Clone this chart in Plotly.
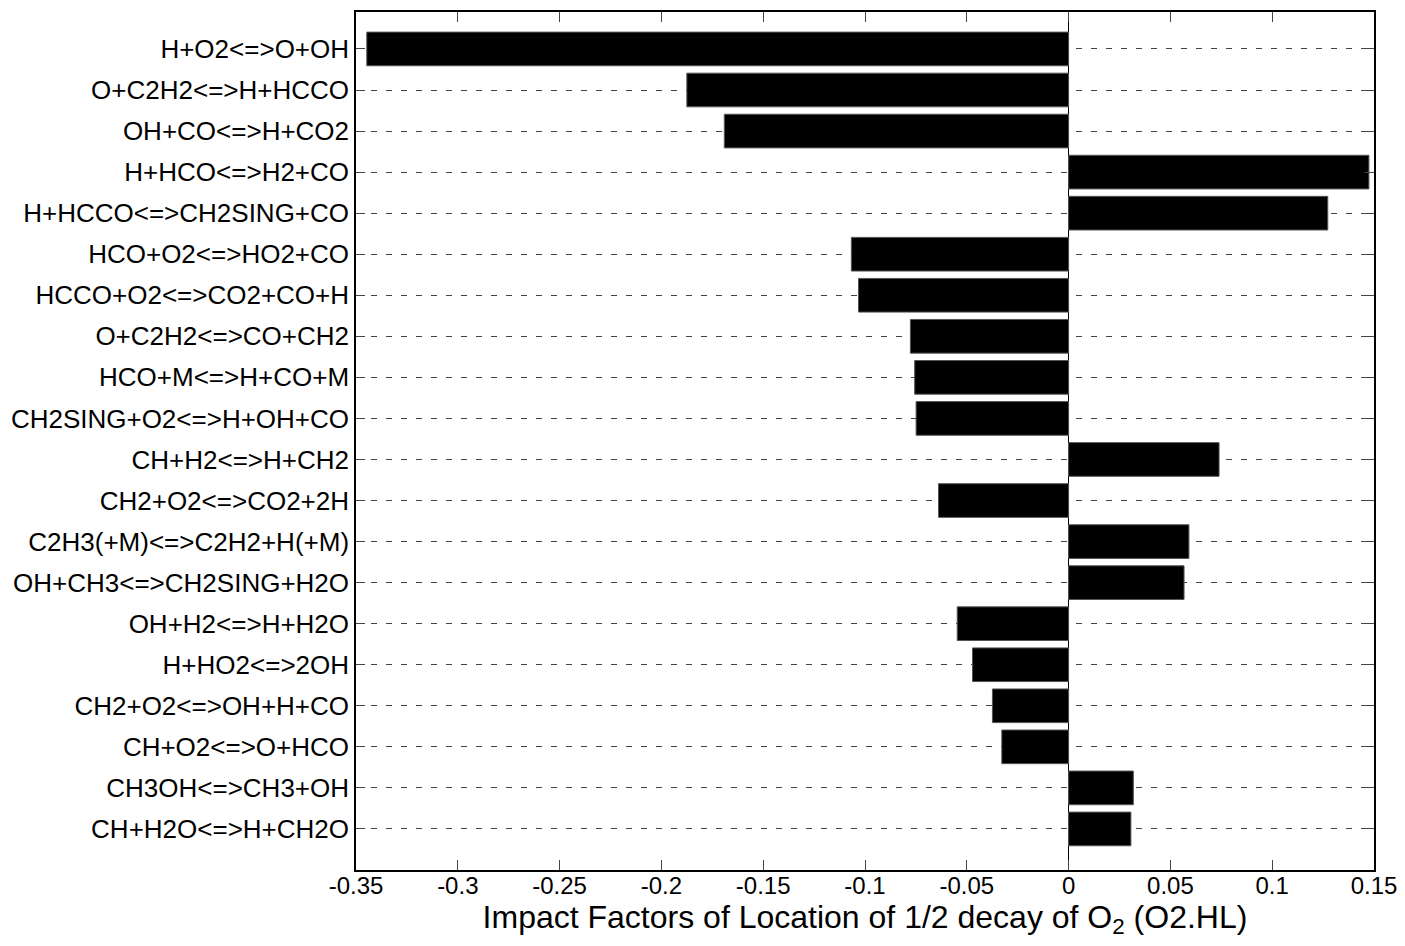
import plotly.graph_objects as go

# Reactions, ordered top to bottom
reactions = [
    "H+O2<=>O+OH",
    "O+C2H2<=>H+HCCO",
    "OH+CO<=>H+CO2",
    "H+HCO<=>H2+CO",
    "H+HCCO<=>CH2SING+CO",
    "HCO+O2<=>HO2+CO",
    "HCCO+O2<=>CO2+CO+H",
    "O+C2H2<=>CO+CH2",
    "HCO+M<=>H+CO+M",
    "CH2SING+O2<=>H+OH+CO",
    "CH+H2<=>H+CH2",
    "CH2+O2<=>CO2+2H",
    "C2H3(+M)<=>C2H2+H(+M)",
    "OH+CH3<=>CH2SING+H2O",
    "OH+H2<=>H+H2O",
    "H+HO2<=>2OH",
    "CH2+O2<=>OH+H+CO",
    "CH+O2<=>O+HCO",
    "CH3OH<=>CH3+OH",
    "CH+H2O<=>H+CH2O",
]

# Impact factors for each reaction
impact = [
    -0.3447, -0.1875, -0.1691, 0.1475, 0.1273,
    -0.1067, -0.1032, -0.0777, -0.0756, -0.0749,
    0.0739, -0.0639, 0.0591, 0.0567, -0.0547,
    -0.0472, -0.0374, -0.0328, 0.0318, 0.0306,
]

x_ticks = [-0.35, -0.3, -0.25, -0.2, -0.15, -0.1, -0.05, 0, 0.05, 0.1, 0.15]
x_tick_text = ["-0.35", "-0.3", "-0.25", "-0.2", "-0.15", "-0.1", "-0.05", "0", "0.05", "0.1", "0.15"]

font_family = "Liberation Sans, Arial, Helvetica, sans-serif"

fig = go.Figure(
    go.Bar(
        x=impact,
        y=reactions,
        orientation="h",
        width=0.82,
        marker=dict(color="black", line=dict(color="#555555", width=1)),
        hoverinfo="x+y",
    )
)

fig.update_layout(
    width=1405,
    height=946,
    margin=dict(l=356, r=31, t=12, b=76, autoexpand=False),
    paper_bgcolor="white",
    plot_bgcolor="white",
    showlegend=False,
    font=dict(family=font_family, color="black", size=20),
)

fig.update_xaxes(
    range=[-0.35, 0.15],
    tickvals=x_ticks,
    ticktext=x_tick_text,
    ticks="inside",
    ticklen=10,
    tickcolor="#444444",
    tickwidth=1,
    ticklabelstandoff=-7,
    automargin=False,
    showline=True,
    linecolor="black",
    linewidth=1.5,
    mirror="ticks",
    showgrid=False,
    zeroline=True,
    zerolinecolor="black",
    zerolinewidth=1,
    tickfont=dict(size=24),
    title=dict(
        text="Impact Factors of Location of 1/2 decay of O<sub>2</sub> (O2.HL)",
        font=dict(size=32),
        standoff=0,
    ),
)

fig.update_yaxes(
    type="category",
    categoryorder="array",
    categoryarray=reactions,
    range=[20.0, -0.9],
    ticks="inside",
    ticklen=9,
    tickcolor="#444444",
    tickwidth=1,
    automargin=False,
    showline=True,
    linecolor="black",
    linewidth=1.5,
    mirror="ticks",
    showgrid=True,
    gridcolor="#444444",
    gridwidth=1,
    griddash="6px,9px",
    tickfont=dict(size=26),
)

fig.write_html("out.html")
